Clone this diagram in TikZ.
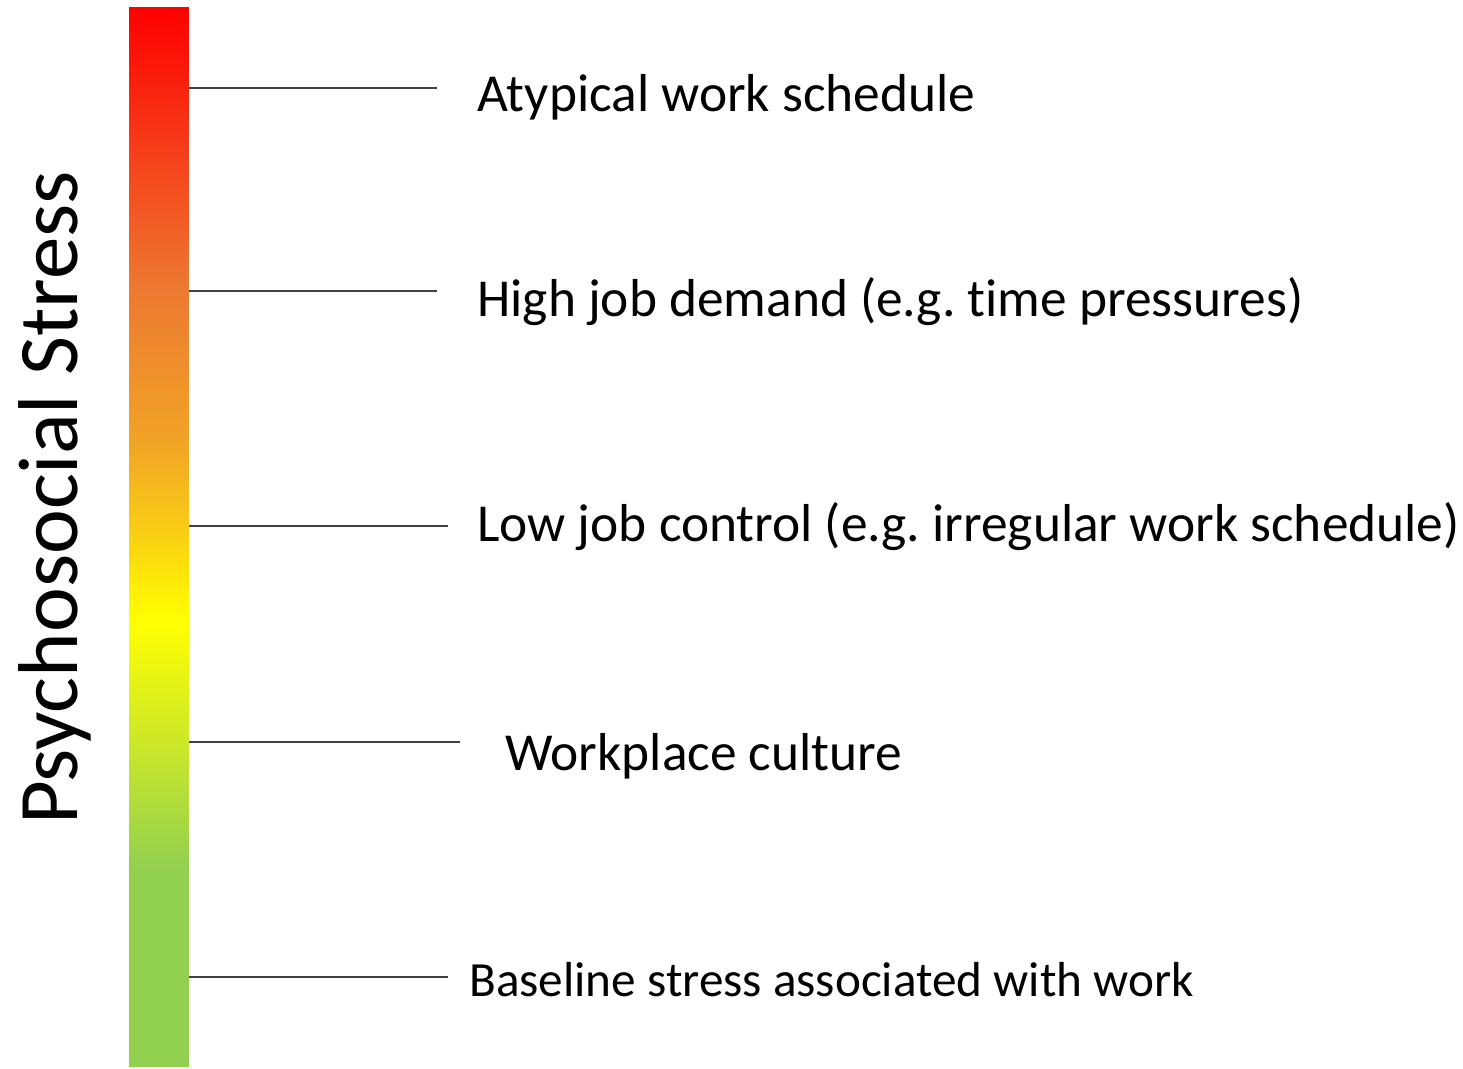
\documentclass[tikz,border=0pt]{standalone}
\usepackage{fontspec}
\setmainfont[Ligatures=NoCommon]{Carlito}
\frenchspacing
\usetikzlibrary{positioning}
\definecolor{stressred}{RGB}{255,0,0}
\definecolor{stressorange}{RGB}{237,122,50}
\definecolor{stressamber}{RGB}{241,163,38}
\definecolor{stressgold}{RGB}{248,200,22}
\definecolor{stressyellow}{RGB}{255,255,0}
\definecolor{stresslime}{RGB}{205,232,40}
\definecolor{stressgreen}{RGB}{146,208,80}
% bar runs green (bottom) to red (top); the box maps onto 25bp..75bp
\pgfdeclareverticalshading{stressscale}{100bp}{%
  color(0bp)=(stressgreen); color(25bp)=(stressgreen);
  color(34.3bp)=(stressgreen); color(40.4bp)=(stresslime);
  color(46.1bp)=(stressyellow); color(50.8bp)=(stressgold);
  color(54.6bp)=(stressamber); color(61.6bp)=(stressorange);
  color(75bp)=(stressred); color(100bp)=(stressred)}
\tikzset{
  scalebar/.style={inner sep=0pt, minimum width=1.2cm, minimum height=21.2cm,
                   shading=stressscale},
  tick/.style={black!75, line width=0.7pt},
  factor/.style={anchor=base west, inner sep=0pt,
                 font=\fontsize{30.4}{36}\selectfont},
  smallfactor/.style={factor, font=\fontsize{28}{33}\selectfont},
  axislab/.style={rotate=90, anchor=base west, inner sep=0pt,
                  font=\fontsize{48.3}{58}\selectfont},
}

\begin{document}
\begin{tikzpicture}[x=0.02cm,y=-0.02cm]
  \useasboundingbox (0,0) rectangle (1463,1068);

  \node[scalebar] (bar) at (159,537) {};
  \node[axislab] (stress) at (77,825) {Psychosocial Stress};

  \coordinate (t1) at (437,88);
  \coordinate (t2) at (437,291);
  \coordinate (t3) at (448,526);
  \coordinate (t4) at (460,742);
  \coordinate (t5) at (448,977);
  \foreach \t in {t1,t2,t3,t4,t5}
    \draw[tick] (bar.east |- \t) -- (\t);

  \node[factor] (atyp) at (477,112) {Atypical work schedule};
  \node[factor] (demand) at (477,316) {High job demand (e.g. time pressures)};
  \node[factor] (control) at (477,541) {Low job control (e.g. irregular work schedule)};
  \node[factor] (culture) at (505,770) {Workplace culture};
  \node[smallfactor] (base) at (469,996) {Baseline stress associated with work};
\end{tikzpicture}
\end{document}
